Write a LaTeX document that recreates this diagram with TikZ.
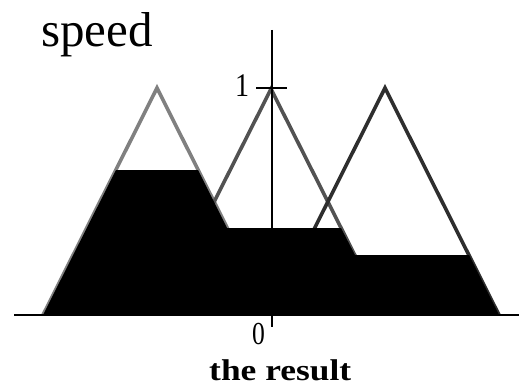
\documentclass[tikz,border=0pt]{standalone}
\usepackage{fontspec}
\setmainfont{Liberation Serif}
\newfontfamily\lserif{Liberation Serif}
\begin{document}
\begin{tikzpicture}[x=1pt,y=-1pt,
  tri/.style={line width=3.6pt,line join=miter},
  axisline/.style={line width=2.8pt,black},
  lbl/.style={inner sep=0pt,anchor=base west}]
\useasboundingbox (0,0) rectangle (519,385);
% triangles
\draw[tri,color=black!50] (43,315) -- (157,88) -- (271,315);
\draw[tri,color=black!68] (157,315) -- (271,89) -- (385,315);
\draw[tri,color=black!82] (271,315) -- (385,88) -- (499,315);
% result region
\fill[black] (43,315) -- (116,170) -- (198,170) -- (227,228) -- (341,228)
  -- (355,255) -- (469,255) -- (499,315) -- cycle;
% axes
\coordinate (ytop) at (272,30);
\coordinate (ybot) at (272,327);
\coordinate (xl) at (14,315);
\coordinate (xr) at (519,315);
\coordinate (tl) at (256,88);
\coordinate (tr) at (287,88);
\draw[axisline] (ytop) -- (ybot);
\draw[axisline] (xl) -- (xr);
\draw[axisline] (tl) -- (tr);
% labels
\node[lbl,font=\lserif\fontsize{49}{49}\selectfont] (speed) at (41,47) {speed};
\node[lbl,font=\lserif\fontsize{33}{33}\selectfont,xscale=0.85] (one) at (235,97) {1};
\node[lbl,font=\lserif\fontsize{32}{32}\selectfont,xscale=0.8] (zero) at (252,344) {0};
\node[lbl,font=\lserif\bfseries\fontsize{30}{30}\selectfont,xscale=1.18] (res) at (209,380) {the result};
\end{tikzpicture}
\end{document}
